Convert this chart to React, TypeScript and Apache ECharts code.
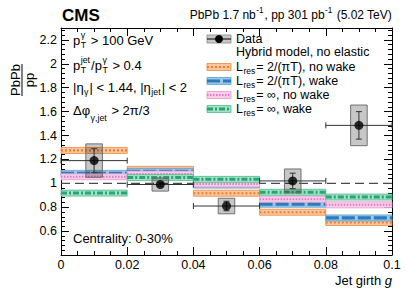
import React, { useEffect, useRef } from "react";
import * as echarts from "echarts";

// ---- data ----
const binEdges = [0, 0.02, 0.04, 0.06, 0.08, 0.1];
const binCenters = [0.01, 0.03, 0.05, 0.07, 0.09];
const dataRatio = [1.19, 0.99, 0.81, 1.02, 1.485];
const statErr = [0.1, 0.015, 0.04, 0.065, 0.115];
const sysErr = [0.14, 0.055, 0.065, 0.1, 0.17];
const resFiniteNoWake = [1.275, 1.117, 0.917, 0.758, 0.672];
const resFiniteWake = [1.083, 1.1, 0.985, 0.825, 0.71];
const resInfNoWake = [1.055, 1.077, 0.995, 0.867, 0.82];
const resInfWake = [0.918, 1.048, 1.033, 0.925, 0.885];
const refLineY = [1];

const FONT = '"Liberation Sans", Arial, Helvetica, sans-serif';
const BAND_HALF_PX = 3;
const BOX_HALF = 0.0025;

const models = [
  { name: "finiteNoWake", vals: resFiniteNoWake, light: "#f8c7a0", strong: "#ec7f2c", edge: "#ee8a3c", dash: [2, 2], lw: 2.2 },
  { name: "finiteWake", vals: resFiniteWake, light: "#9cc8e8", strong: "#2b7bbb", edge: "#5a9fd2", dash: [13, 3], lw: 3.2 },
  { name: "infNoWake", vals: resInfNoWake, light: "#f7cdea", strong: "#dd7cc0", edge: "#e79ad0", dash: [1.5, 1.5], lw: 2 },
  { name: "infWake", vals: resInfWake, light: "#a6e0c6", strong: "#26a676", edge: "#4fbb91", dash: [6, 2, 2, 2], lw: 3 },
];

let measureCtx: CanvasRenderingContext2D | null = null;
function tw(text: string, size: number, weight = "normal", style = "normal") {
  if (!measureCtx) measureCtx = document.createElement("canvas").getContext("2d");
  measureCtx!.font = `${style} ${weight} ${size}px ${FONT}`;
  return measureCtx!.measureText(text).width;
}

type Part = string | { t?: string; it?: boolean; sub?: string; sup?: string; subDy?: number };

function rich(x: number, y: number, parts: Part[], size: number, align: "left" | "right" = "left", weight = "normal") {
  const items: any[] = [];
  let cx = 0;
  const ss = size * 0.68;
  for (const p of parts) {
    if (typeof p === "string") {
      items.push({ text: p, x: cx, dy: 0, size, style: "normal" });
      cx += tw(p, size, weight);
    } else if (p.t !== undefined) {
      const st = p.it ? "italic" : "normal";
      items.push({ text: p.t, x: cx, dy: 0, size, style: st });
      cx += tw(p.t, size, weight, st);
    } else {
      let w = 0;
      if (p.sup) {
        items.push({ text: p.sup, x: cx + 0.5, dy: -size * 0.4, size: ss, style: "normal" });
        w = Math.max(w, tw(p.sup, ss));
      }
      if (p.sub) {
        items.push({ text: p.sub, x: cx + 0.5, dy: size * (p.subDy ?? 0.38), size: ss, style: "normal" });
        w = Math.max(w, tw(p.sub, ss));
      }
      cx += w + 1.5;
    }
  }
  const x0 = align === "left" ? x : x - cx;
  return items.map((it) => ({
    type: "text",
    x: x0 + it.x,
    y: y + it.dy,
    silent: true,
    style: {
      text: it.text,
      fontSize: it.size,
      fontFamily: FONT,
      fontWeight: weight,
      fontStyle: it.style,
      fill: "#000",
      align: "left",
      verticalAlign: "middle",
    },
  }));
}

function bandRender(m: any) {
  return (params: any, api: any) => {
    const a = api.coord([api.value(0), api.value(2)]);
    const b = api.coord([api.value(1), api.value(2)]);
    return {
      type: "group",
      children: [
        { type: "rect", shape: { x: a[0], y: a[1] - BAND_HALF_PX, width: b[0] - a[0], height: 2 * BAND_HALF_PX }, style: { fill: m.light, stroke: m.edge, lineWidth: 0.8 } },
        { type: "line", shape: { x1: a[0], y1: a[1], x2: b[0], y2: b[1] }, style: { stroke: m.strong, lineWidth: m.lw, lineDash: m.dash } },
      ],
    };
  };
}

function legendBand(m: any, x: number, y: number) {
  return [
    { type: "rect", shape: { x, y: y - 3.5, width: 24, height: 7 }, style: { fill: m.light, stroke: m.edge, lineWidth: 0.8 } },
    { type: "line", shape: { x1: x, y1: y, x2: x + 24, y2: y }, style: { stroke: m.strong, lineWidth: m.lw, lineDash: m.dash } },
  ];
}

export default function App() {
  const ref = useRef<HTMLDivElement>(null);
  useEffect(() => {
    document.body.style.margin = "0";
    const chart = echarts.init(ref.current!, null, { renderer: "svg" });

    const axisCommon = {
      axisLine: { show: true, onZero: false, lineStyle: { color: "#000", width: 1 } },
      axisTick: { show: true, inside: true, length: 8, lineStyle: { color: "#000" } },
      splitLine: { show: false },
    };

    const series: any[] = [];
    series.push({
      type: "line",
      data: [[binEdges[0], refLineY[0]], [binEdges[binEdges.length - 1], refLineY[0]]],
      symbol: "none",
      lineStyle: { color: "#4a4a4a", width: 1.2, type: [9, 5] },
      z: 1,
    });
    models.forEach((m, k) => {
      series.push({
        type: "custom",
        renderItem: bandRender(m),
        data: m.vals.map((v, i) => [binEdges[i], binEdges[i + 1], v]),
        encode: { x: [0, 1], y: 2 },
        z: 2 + k,
      });
    });
    series.push({
      type: "custom",
      renderItem: (params: any, api: any) => {
        const x = api.value(0), y = api.value(1), s = api.value(2);
        const a = api.coord([x - BOX_HALF, y + s]);
        const b = api.coord([x + BOX_HALF, y - s]);
        return { type: "rect", shape: { x: a[0], y: a[1], width: b[0] - a[0], height: b[1] - a[1] }, style: { fill: "rgba(0,0,0,0.22)", stroke: "#707070", lineWidth: 1 } };
      },
      data: binCenters.map((x, i) => [x, dataRatio[i], sysErr[i]]),
      encode: { x: 0, y: 1 },
      z: 8,
    });
    series.push({
      type: "custom",
      renderItem: (params: any, api: any) => {
        const x = api.value(0), y = api.value(1), e = api.value(2);
        const t = api.coord([x, y + e]);
        const bt = api.coord([x, y - e]);
        const l = api.coord([api.value(3), y]);
        const r = api.coord([api.value(4), y]);
        const st = { stroke: "#333", lineWidth: 1 };
        return {
          type: "group",
          children: [
            { type: "line", shape: { x1: l[0], y1: l[1], x2: r[0], y2: r[1] }, style: st },
            { type: "line", shape: { x1: l[0], y1: l[1] - 3, x2: l[0], y2: l[1] + 3 }, style: st },
            { type: "line", shape: { x1: r[0], y1: r[1] - 3, x2: r[0], y2: r[1] + 3 }, style: st },
            { type: "line", shape: { x1: t[0], y1: t[1], x2: bt[0], y2: bt[1] }, style: st },
            { type: "line", shape: { x1: t[0] - 3, y1: t[1], x2: t[0] + 3, y2: t[1] }, style: st },
            { type: "line", shape: { x1: bt[0] - 3, y1: bt[1], x2: bt[0] + 3, y2: bt[1] }, style: st },
          ],
        };
      },
      data: binCenters.map((x, i) => [x, dataRatio[i], statErr[i], binEdges[i], binEdges[i + 1]]),
      encode: { x: 0, y: 1 },
      z: 9,
    });
    series.push({
      type: "scatter",
      data: binCenters.map((x, i) => [x, dataRatio[i]]),
      symbolSize: 9,
      itemStyle: { color: "#000" },
      z: 10,
    });

    const lx = 207;
    const tx = 236;
    const LF = 12.5;
    const graphic: any[] = [
      ...rich(62, 15, ["CMS"], 17, "left", "bold"),
      ...rich(392, 15, ["PbPb 1.7 nb", { sup: "-1" }, ", pp 301 pb", { sup: "-1" }, " (5.02 TeV)"], 12, "right"),
      ...rich(73, 40, ["p", { sub: "T", sup: "γ" }, " > 100 GeV"], 13),
      ...rich(73, 65, ["p", { sub: "T", sup: "jet" }, "/p", { sub: "T", sup: "γ" }, " > 0.4"], 13),
      ...rich(73, 87, ["|η", { sub: "γ" }, "| < 1.44, |η", { sub: "jet" }, "| < 2"], 13),
      ...rich(73, 110, ["Δφ", { sub: "γ,jet", subDy: 0.6 }, " > 2π/3"], 13),
      ...rich(73, 238, ["Centrality: 0-30%"], 13),
      ...rich(392, 280, ["Jet girth ", { t: "g", it: true }], 13, "right"),
      // legend
      { type: "rect", shape: { x: lx, y: 35, width: 24, height: 8 }, style: { fill: "rgba(0,0,0,0.22)", stroke: "#9a9a9a", lineWidth: 1 } },
      { type: "line", shape: { x1: lx, y1: 39, x2: lx + 24, y2: 39 }, style: { stroke: "#000", lineWidth: 1 } },
      { type: "circle", shape: { cx: lx + 12, cy: 39, r: 4 }, style: { fill: "#000" } },
      ...rich(tx, 38.5, ["Data"], LF),
      ...rich(tx, 52, ["Hybrid model, no elastic"], LF),
      ...legendBand(models[0], lx, 67),
      ...rich(tx, 66.5, ["L", { sub: "res" }, "= 2/(πT), no wake"], LF),
      ...legendBand(models[1], lx, 81),
      ...rich(tx, 80.5, ["L", { sub: "res" }, "= 2/(πT), wake"], LF),
      ...legendBand(models[2], lx, 95),
      ...rich(tx, 94.5, ["L", { sub: "res" }, "= ∞, no wake"], LF),
      ...legendBand(models[3], lx, 109),
      ...rich(tx, 108.5, ["L", { sub: "res" }, "= ∞, wake"], LF),
      // y axis title as fraction
      {
        type: "group",
        x: 22,
        y: 80,
        rotation: Math.PI / 2,
        children: [
          { type: "text", x: 0, y: -7, style: { text: "PbPb", fontSize: 13, fontFamily: FONT, fill: "#000", align: "center", verticalAlign: "middle" } },
          { type: "line", shape: { x1: -16, y1: 0, x2: 16, y2: 0 }, style: { stroke: "#000", lineWidth: 1 } },
          { type: "text", x: 0, y: 7, style: { text: "pp", fontSize: 13, fontFamily: FONT, fill: "#000", align: "center", verticalAlign: "middle" } },
        ],
      },
    ];

    chart.setOption({
      animation: false,
      backgroundColor: "#fff",
      grid: { left: 61, right: 15, top: 28, bottom: 37, containLabel: false },
      xAxis: [
        {
          type: "value", min: 0, max: 0.1, interval: 0.02, position: "bottom", ...axisCommon,
          minorTick: { show: true, splitNumber: 4, length: 4, lineStyle: { color: "#000" } },
          axisLabel: { fontSize: 12.5, color: "#000", fontFamily: FONT, margin: 3, formatter: (v: number) => String(Math.round(v * 1000) / 1000) },
        },
        {
          type: "value", min: 0, max: 0.1, interval: 0.02, position: "top", ...axisCommon,
          minorTick: { show: true, splitNumber: 4, length: 4, lineStyle: { color: "#000" } },
          axisLabel: { show: false },
        },
      ],
      yAxis: [
        {
          type: "value", min: 0.4, max: 2.3, interval: 0.2, position: "left", ...axisCommon,
          minorTick: { show: true, splitNumber: 5, length: 4, lineStyle: { color: "#000" } },
          axisLabel: {
            fontSize: 12.5, color: "#000", fontFamily: FONT, margin: 4, showMinLabel: false, showMaxLabel: false,
            formatter: (v: number) => { const r = Math.round(v * 100) / 100; return r < 0.5 || r > 2.25 ? "" : String(r); },
          },
        },
        {
          type: "value", min: 0.4, max: 2.3, interval: 0.2, position: "right", ...axisCommon,
          minorTick: { show: true, splitNumber: 5, length: 4, lineStyle: { color: "#000" } },
          axisLabel: { show: false },
        },
      ],
      series,
      graphic,
    });
    return () => chart.dispose();
  }, []);
  return <div ref={ref} style={{ width: 407, height: 292 }} />;
}
